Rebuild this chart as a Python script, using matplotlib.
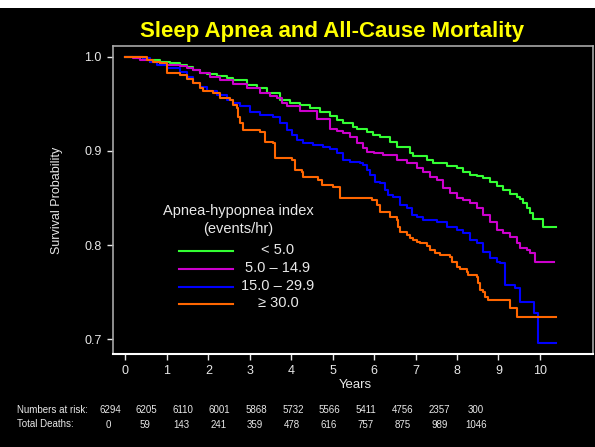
import matplotlib
matplotlib.use("Agg")
import matplotlib.pyplot as plt
from matplotlib.lines import Line2D
from matplotlib.patches import Rectangle

plt.rcParams['font.family'] = ['Liberation Sans', 'DejaVu Sans']

# ---- data ----
green_t = [0, 0.194, 0.435, 0.596, 0.837, 1.078, 1.319, 1.480, 1.641, 1.801, 1.962, 2.203,
           2.444, 2.605, 2.927, 3.168, 3.409, 3.730, 3.972, 4.213, 4.454, 4.695, 4.936, 5.097,
           5.258, 5.499, 5.579, 5.820, 5.981, 6.142, 6.383, 6.544, 6.865, 6.945, 7.267, 7.428,
           7.749, 7.990, 8.151, 8.312, 8.473, 8.633, 8.794, 8.955, 9.116, 9.277, 9.437, 9.518,
           9.598, 9.678, 9.759, 9.823, 10.080, 10.378]
green_s = [1.000, 0.9993, 0.9979, 0.9965, 0.9947, 0.9930, 0.9912, 0.9894, 0.9859, 0.9823,
           0.9813, 0.9795, 0.9770, 0.9753, 0.9700, 0.9664, 0.9611, 0.9540, 0.9512, 0.9487,
           0.9452, 0.9416, 0.9370, 0.9328, 0.9300, 0.9257, 0.9229, 0.9194, 0.9169, 0.9144,
           0.9098, 0.9045, 0.8974, 0.8946, 0.8903, 0.8875, 0.8843, 0.8815, 0.8780, 0.8744,
           0.8734, 0.8709, 0.8673, 0.8627, 0.8585, 0.8539, 0.8514, 0.8486, 0.8443, 0.8390,
           0.8337, 0.8273, 0.8192, 0.8192]

magenta_t = [0, 0.194, 0.355, 0.596, 0.837, 0.998, 1.319, 1.480, 1.641, 1.801, 2.043, 2.284,
             2.605, 2.927, 3.248, 3.489, 3.650, 3.771, 3.891, 4.213, 4.615, 4.936, 5.097,
             5.258, 5.418, 5.579, 5.740, 5.820, 5.997, 6.222, 6.544, 6.785, 7.026, 7.187,
             7.347, 7.508, 7.669, 7.830, 7.990, 8.151, 8.312, 8.473, 8.633, 8.794, 8.955,
             9.116, 9.277, 9.437, 9.518, 9.678, 9.759, 9.879, 10.337]
magenta_s = [1.000, 0.9983, 0.9958, 0.9944, 0.9930, 0.9912, 0.9901, 0.9877, 0.9852, 0.9823,
             0.9788, 0.9753, 0.9710, 0.9664, 0.9618, 0.9583, 0.9558, 0.9505, 0.9470, 0.9427,
             0.9340, 0.9232, 0.9215, 0.9186, 0.9144, 0.9080, 0.9027, 0.8992, 0.8974, 0.8956,
             0.8903, 0.8868, 0.8815, 0.8780, 0.8726, 0.8691, 0.8603, 0.8549, 0.8496, 0.8479,
             0.8443, 0.8390, 0.8320, 0.8249, 0.8160, 0.8125, 0.8089, 0.8019, 0.7966, 0.7948,
             0.7913, 0.7824, 0.7824]

blue_t = [0, 0.274, 0.435, 0.596, 0.757, 0.998, 1.319, 1.480, 1.641, 1.801, 1.962, 2.203,
          2.444, 2.605, 2.766, 3.007, 3.248, 3.570, 3.730, 3.891, 4.012, 4.132, 4.293, 4.534,
          4.775, 4.936, 5.097, 5.258, 5.418, 5.659, 5.740, 5.820, 5.900, 6.021, 6.142, 6.262,
          6.343, 6.463, 6.624, 6.785, 6.905, 7.026, 7.187, 7.508, 7.749, 7.990, 8.151, 8.312,
          8.473, 8.633, 8.794, 8.955, 9.035, 9.156, 9.397, 9.518, 9.855, 9.960, 10.378]
blue_s = [1.000, 0.9993, 0.9983, 0.9947, 0.9912, 0.9877, 0.9841, 0.9788, 0.9717, 0.9682,
          0.9629, 0.9593, 0.9540, 0.9505, 0.9470, 0.9416, 0.9381, 0.9363, 0.9293, 0.9222,
          0.9169, 0.9116, 0.9080, 0.9063, 0.9045, 0.9017, 0.8974, 0.8903, 0.8886, 0.8868,
          0.8850, 0.8797, 0.8744, 0.8673, 0.8656, 0.8585, 0.8532, 0.8514, 0.8426, 0.8390,
          0.8320, 0.8302, 0.8266, 0.8249, 0.8196, 0.8160, 0.8125, 0.8054, 0.8019, 0.7930,
          0.7860, 0.7824, 0.7807, 0.7576, 0.7541, 0.7400, 0.7276, 0.6957, 0.6957]

orange_t = [0, 0.515, 0.676, 0.837, 0.998, 1.319, 1.480, 1.641, 1.801, 1.882, 2.122, 2.284,
            2.525, 2.605, 2.685, 2.726, 2.766, 2.846, 3.248, 3.369, 3.570, 3.610, 4.012, 4.092,
            4.253, 4.293, 4.655, 4.735, 5.017, 5.177, 5.941, 6.061, 6.142, 6.383, 6.544, 6.584,
            6.624, 6.785, 6.865, 6.945, 7.026, 7.106, 7.267, 7.347, 7.468, 7.589, 7.830, 7.870,
            7.990, 8.071, 8.232, 8.272, 8.473, 8.513, 8.553, 8.633, 8.674, 8.754, 9.270, 9.440,
            10.378]
orange_s = [1.000, 0.9958, 0.9944, 0.9930, 0.9823, 0.9806, 0.9760, 0.9717, 0.9664, 0.9629,
            0.9611, 0.9558, 0.9540, 0.9487, 0.9452, 0.9363, 0.9293, 0.9222, 0.9204, 0.9098,
            0.9080, 0.8921, 0.8903, 0.8797, 0.8779, 0.8726, 0.8691, 0.8638, 0.8620, 0.8496,
            0.8479, 0.8426, 0.8355, 0.8302, 0.8266, 0.8196, 0.8143, 0.8107, 0.8072, 0.8054,
            0.8036, 0.8019, 0.7994, 0.7948, 0.7913, 0.7895, 0.7877, 0.7824, 0.7771, 0.7743,
            0.7718, 0.7683, 0.7665, 0.7594, 0.7523, 0.7506, 0.7453, 0.7417, 0.7329, 0.7236,
            0.7236]

legend_labels = ["< 5.0", "5.0 \u2013 14.9", "15.0 \u2013 29.9", "\u2265 30.0"]
colors = ["#33FF33", "#CC00CC", "#0000FF", "#FF6600"]

x_ticks = list(range(0, 11))
y_ticks = [0.7, 0.8, 0.9, 1.0]
y_ticklabels = ["0.7", "0.8", "0.9", "1.0"]

at_risk = [6294, 6205, 6110, 6001, 5868, 5732, 5566, 5411, 4756, 2357, 300]
deaths = [0, 59, 143, 241, 359, 478, 616, 757, 875, 989, 1046]

# ---- figure ----
W, H = 595, 447
fig = plt.figure(figsize=(W / 100, H / 100), dpi=100, facecolor="black")

def fx(px):
    return px / W

def fy(py):
    return 1 - py / H

# white strip at top
fig.add_artist(Rectangle((0, fy(8)), 1, 8 / H, transform=fig.transFigure,
                         facecolor="white", edgecolor="none"))

ax = fig.add_axes([fx(113), fy(354), (592.5 - 113) / W, (354 - 45.5) / H])
ax.set_facecolor("black")

series = [(green_t, green_s), (magenta_t, magenta_s), (blue_t, blue_s), (orange_t, orange_s)]
for (t, s), c in zip(series, colors):
    ax.step(t, s, where="post", color=c, lw=1.5)

ax.set_xlim(-0.30, 11.27)
ax.set_ylim(0.6844, 1.0117)
ax.set_xticks(x_ticks)
ax.set_xticklabels([str(v) for v in x_ticks])
ax.set_yticks(y_ticks)
ax.set_yticklabels(y_ticklabels)
ax.tick_params(colors="#E8E8E8", labelsize=9, length=4, width=1, pad=4)
for side in ["left", "top", "right"]:
    ax.spines[side].set_color("#A8A8A8")
    ax.spines[side].set_linewidth(1.2)
ax.spines["bottom"].set_color("white")
ax.spines["bottom"].set_linewidth(1.5)

# title and axis labels
fig.text(fx(332), fy(32), "Sleep Apnea and All-Cause Mortality", color="#FFFF00",
         fontsize=16, fontweight="bold", ha="center", va="center")
fig.text(fx(355), fy(385), "Years", color="#E8E8E8", fontsize=9.5, ha="center", va="center")
fig.text(fx(57), fy(200), "Survival Probability", color="#E8E8E8", fontsize=9,
         ha="center", va="center", rotation=90)

# legend (manual)
fig.text(fx(238), fy(211), "Apnea-hypopnea index", color="#E8E8E8", fontsize=10.5,
         ha="center", va="center")
fig.text(fx(238), fy(229), "(events/hr)", color="#E8E8E8", fontsize=10.5,
         ha="center", va="center")
rows_y = [251, 269, 286.7, 304.3]
for lab, c, ry in zip(legend_labels, colors, rows_y):
    fig.add_artist(Line2D([fx(179.3), fx(233.3)], [fy(ry), fy(ry)], color=c, lw=1.5,
                          transform=fig.transFigure))
    fig.text(fx(278), fy(ry - 1), lab, color="#E8E8E8", fontsize=10.5, ha="center", va="center")

# numbers-at-risk table
fig.text(fx(17), fy(410), "Numbers at risk:", color="#E8E8E8", fontsize=7, ha="left", va="center")
fig.text(fx(17), fy(424), "Total Deaths:", color="#E8E8E8", fontsize=7, ha="left", va="center")
for i, (r, d) in enumerate(zip(at_risk, deaths)):
    xx = 110 + 36.6 * i
    fig.text(fx(xx), fy(410), str(r), color="#E8E8E8", fontsize=7, ha="center", va="center")
    fig.text(fx(xx - 2 + 0.2 * i), fy(425), str(d), color="#E8E8E8", fontsize=7,
             ha="center", va="center")

fig.savefig("out.png", dpi=100, facecolor="black")
